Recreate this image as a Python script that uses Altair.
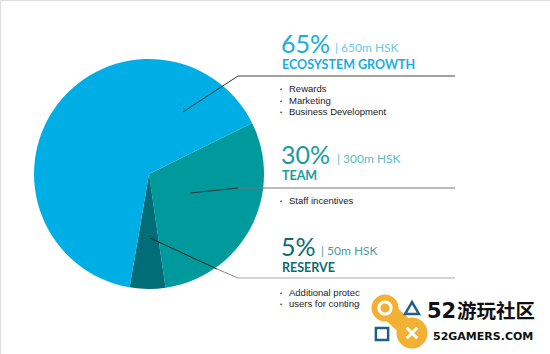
import altair as alt
import pandas as pd
import math

# ---- data ----
categories = ["Team", "Reserve", "Ecosystem Growth"]
shares = [30, 5, 65]
slice_colors = ["#00999C", "#006D77", "#00AEE6"]

pct_labels = ["65%", "30%", "5%"]
amount_labels = ["| 650m HSK", "| 300m HSK", "| 50m HSK"]
titles = ["ECOSYSTEM GROWTH", "TEAM", "RESERVE"]
bullets_eco = ["Rewards", "Marketing", "Business Development"]
bullets_team = ["Staff incentives"]
bullets_reserve = ["Additional protection for", "users for contingencies"]
wm_cn = "52游玩社区"
wm_en = "52GAMERS.COM"

W, H = 550, 354
START = math.radians(63.7)

pie_df = pd.DataFrame({"cat": categories, "share": shares, "ord": list(range(len(categories)))})

pie = alt.Chart(pie_df).mark_arc(outerRadius=115, stroke=None).encode(
    theta=alt.Theta("share:Q", stack=True, scale=alt.Scale(range=[START, START + 2 * math.pi])),
    order=alt.Order("ord:Q"),
    color=alt.Color("cat:N", scale=alt.Scale(domain=categories, range=slice_colors), legend=None),
    x=alt.value(149),
    y=alt.value(174),
)

layers = [pie]

def txt(s, x, y, size, color, weight="normal", font="Lato", align="left"):
    return alt.Chart(pd.DataFrame({"t": [s]})).mark_text(
        align=align, baseline="alphabetic", fontSize=size, color=color,
        fontWeight=weight, font=font
    ).encode(text="t:N", x=alt.value(x), y=alt.value(y))

def seg(x1, y1, x2, y2, color, w=1.0):
    return alt.Chart(pd.DataFrame({"a": [0]})).mark_rule(color=color, strokeWidth=w).encode(
        x=alt.value(x1), y=alt.value(y1), x2=alt.value(x2), y2=alt.value(y2))

# leader lines
layers += [
    seg(183, 112, 238, 76, "#333333"), seg(238, 76, 455, 76, "#444444"),
    seg(190, 193, 238, 188, "#333333"), seg(238, 188, 455, 188, "#777777"),
    seg(150, 238, 217, 269, "#222222"), seg(217, 269, 238, 278, "#888888"), seg(238, 278, 455, 278, "#aaaaaa"),
]

pct_colors = ["#1AADE0", "#1A9C9E", "#0E6B73"]
amt_colors = ["#6CC8EC", "#5DBCBE", "#4A9CA4"]
pct_base = [53, 164, 256]
amt_x = [335, 337, 321]
title_base = [69, 180, 272]
for i in range(3):
    layers.append(txt(pct_labels[i], 281, pct_base[i], 25, pct_colors[i], "normal", "Lato"))
    layers.append(txt(amount_labels[i], amt_x[i], pct_base[i] - 1, 12, amt_colors[i], "normal", "Lato"))
    layers.append(txt(titles[i], 282, title_base[i], 12.5, pct_colors[i], "bold", "Lato"))

def bullet_list(items, y0, step=11.5):
    out = []
    for j, it in enumerate(items):
        y = y0 + j * step
        out.append(txt("•", 280, y - 1, 6, "#222222", font="Liberation Sans"))
        out.append(txt(it, 289, y, 9.5, "#222222", font="Liberation Sans"))
    return out

layers += bullet_list(bullets_eco, 92)
layers += bullet_list(bullets_team, 204)
layers += bullet_list(bullets_reserve, 296, 11)

# watermark
layers.append(alt.Chart(pd.DataFrame({"a": [0]})).mark_rect(color="white").encode(
    x=alt.value(360), x2=alt.value(550), y=alt.value(283), y2=alt.value(354)))
orange = "#F2B134"
layers.append(seg(385, 308, 412, 333, orange, 17))
for (cx, cy, r) in [(385, 308, 13.5), (412, 333, 15.5)]:
    layers.append(alt.Chart(pd.DataFrame({"a": [0]})).mark_point(
        shape="circle", filled=True, opacity=1, color=orange, size=(2 * r) ** 2).encode(
        x=alt.value(cx), y=alt.value(cy)))
layers.append(alt.Chart(pd.DataFrame({"a": [0]})).mark_point(
    shape="circle", filled=False, stroke="white", strokeWidth=3, size=150, opacity=1).encode(
    x=alt.value(385), y=alt.value(308)))
layers.append(alt.Chart(pd.DataFrame({"a": [0]})).mark_point(
    shape="triangle-up", filled=False, stroke="#1F5F8B", strokeWidth=2.5, size=190, opacity=1).encode(
    x=alt.value(412), y=alt.value(308)))
layers.append(alt.Chart(pd.DataFrame({"a": [0]})).mark_point(
    shape="square", filled=False, stroke="#1F5F8B", strokeWidth=2.5, size=150, opacity=1).encode(
    x=alt.value(382), y=alt.value(334)))
layers.append(alt.Chart(pd.DataFrame({"a": [0]})).mark_point(
    shape="M -1 -1 L 1 1 M -1 1 L 1 -1", filled=False, stroke="white", strokeWidth=3, size=110, opacity=1).encode(
    x=alt.value(412), y=alt.value(333)))
layers.append(txt(wm_cn[:2], 427, 318, 21, "#111111", "bold", "DejaVu Sans"))
layers.append(txt(wm_cn[2:], 457, 318, 19.5, "#111111", "bold", "Noto Sans CJK SC"))
layers.append(txt(wm_en, 433, 340, 11, "#111111", "bold", "DejaVu Sans"))

chart = alt.layer(*layers).properties(
    width=W, height=H, padding=0, autosize=alt.AutoSizeParams(type="none")
).configure_view(stroke=None).configure(background="white")

chart.save("out.html", embed_options={"renderer": "svg", "actions": False})
